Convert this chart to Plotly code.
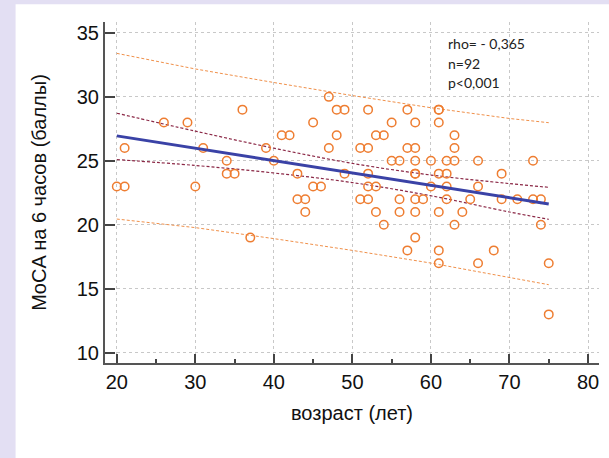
import plotly.graph_objects as go

# ---- data ----
age = [20, 21, 21, 26, 29, 30, 31, 34, 34, 35, 36, 37, 39, 40, 41, 42, 43, 43, 44, 44,
       45, 45, 46, 47, 47, 48, 48, 49, 49, 51, 51, 52, 52, 52, 52, 52, 53, 53, 53, 54,
       54, 55, 55, 56, 56, 56, 57, 57, 57, 58, 58, 58, 58, 58, 58, 58, 58, 59, 60, 60,
       61, 61, 61, 61, 61, 61, 61, 62, 62, 62, 62, 63, 63, 63, 63, 64, 65, 66, 66, 66,
       68, 69, 69, 71, 73, 73, 74, 74, 75, 75]
moca = [23, 23, 26, 28, 28, 23, 26, 25, 24, 24, 29, 19, 26, 25, 27, 27, 24, 22, 22, 21,
        28, 23, 23, 30, 26, 29, 27, 29, 24, 26, 22, 29, 26, 24, 23, 22, 23, 27, 21, 27,
        20, 28, 25, 25, 22, 21, 29, 26, 18, 28, 26, 25, 24, 24, 22, 21, 19, 22, 25, 23,
        29, 29, 28, 24, 21, 18, 17, 25, 24, 23, 22, 27, 26, 25, 20, 21, 22, 25, 23, 17,
        18, 24, 22, 22, 25, 22, 22, 20, 17, 13]

line_x = [20, 30, 40, 50, 60, 70, 75]
fit_y = [26.95, 25.98, 25.02, 24.05, 23.08, 22.11, 21.63]
ci_upper = [28.72, 27.32, 25.99, 24.80, 23.89, 23.22, 22.93]
ci_lower = [25.10, 24.64, 24.05, 23.30, 22.27, 21.00, 20.43]
pi_upper = [33.40, 32.18, 31.12, 30.10, 29.15, 28.31, 27.98]
pi_lower = [20.45, 19.78, 18.92, 18.00, 17.01, 15.91, 15.32]

x_ticks = [20, 30, 40, 50, 60, 70, 80]
y_ticks = [10, 15, 20, 25, 30, 35]
stats_lines = ["rho= - 0,365", "n=92", "p<0,001"]
stats_y = [34.15, 32.6, 31.1]

ORANGE = "#EE7D31"
fig = go.Figure()

fig.add_trace(go.Scatter(x=line_x, y=pi_upper, mode="lines",
                         line=dict(color="#F0904A", width=1, dash="3px,2px"), hoverinfo="skip"))
fig.add_trace(go.Scatter(x=line_x, y=pi_lower, mode="lines",
                         line=dict(color="#F0904A", width=1, dash="3px,2px"), hoverinfo="skip"))
fig.add_trace(go.Scatter(x=line_x, y=ci_upper, mode="lines", line_shape="spline",
                         line=dict(color="#8B2846", width=1.2, dash="3px,2px"), hoverinfo="skip"))
fig.add_trace(go.Scatter(x=line_x, y=ci_lower, mode="lines", line_shape="spline",
                         line=dict(color="#8B2846", width=1.2, dash="3px,2px"), hoverinfo="skip"))
fig.add_trace(go.Scatter(x=age, y=moca, mode="markers",
                         marker=dict(symbol="circle-open", size=8.5, color=ORANGE,
                                     line=dict(width=1.5, color=ORANGE))))
fig.add_trace(go.Scatter(x=line_x, y=fit_y, mode="lines",
                         line=dict(color="#3A42A6", width=3), hoverinfo="skip"))

for txt, yy in zip(stats_lines, stats_y):
    fig.add_annotation(x=61.9, y=yy, xref="x", yref="y", text=txt, showarrow=False,
                       xanchor="left", yanchor="middle",
                       font=dict(family="Lato, sans-serif", size=14, color="#222222"))

fig.add_shape(type="rect", xref="paper", yref="paper", x0=-0.181, x1=1.03,
              y0=-0.30, y1=1.0519, fillcolor="white", line=dict(width=0), layer="below")

axis_font = dict(family="Liberation Sans, Arial, sans-serif", size=20, color="#111111")
fig.update_layout(
    width=609, height=458, autosize=False,
    margin=dict(l=105, r=10, t=22, b=95),
    paper_bgcolor="#E3DFF3", plot_bgcolor="white",
    showlegend=False,
    xaxis=dict(range=[18.5, 81.4], tickvals=x_ticks, ticks="inside", ticklen=9,
               tickwidth=1.5, tickcolor="#444444",
               showline=True, linecolor="#555555", linewidth=2,
               showgrid=True, gridcolor="#C8C8C8", griddash="3px,3px", gridwidth=1,
               zeroline=False, tickfont=axis_font,
               minor=dict(ticks="inside", ticklen=4, tickvals=[25, 35, 45, 55, 65, 75],
                          tickcolor="#444444", showgrid=False),
               title=dict(text="возраст (лет)", font=axis_font, standoff=14)),
    yaxis=dict(range=[9.2, 35.85], tickvals=y_ticks, ticks="inside", ticklen=10,
               tickwidth=1.5, tickcolor="#444444",
               showline=True, linecolor="#555555", linewidth=2,
               showgrid=True, gridcolor="#C8C8C8", griddash="3px,3px", gridwidth=1,
               zeroline=False, tickfont=axis_font,
               title=dict(text="MoCA на 6 часов (баллы)", font=axis_font, standoff=25)),
)

fig.write_html("out.html")
